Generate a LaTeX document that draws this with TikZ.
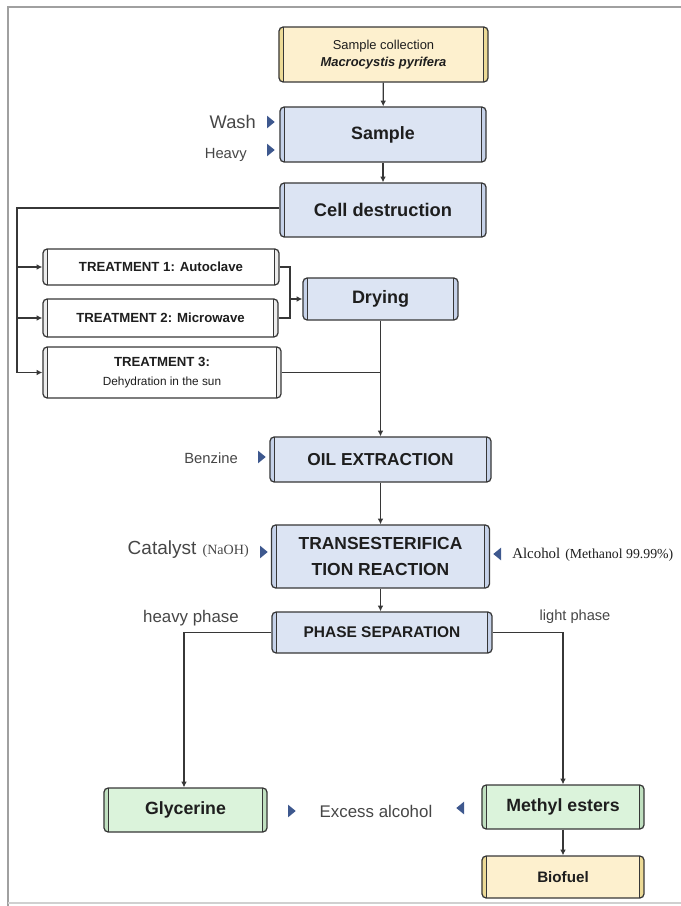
\documentclass[tikz,border=0pt]{standalone}
\usepackage{fontspec}
\setmainfont{Liberation Sans}
\newfontfamily\timesfont{Liberation Serif}
\usetikzlibrary{shapes.geometric, arrows.meta, positioning}
\definecolor{linegray}{RGB}{55,55,55}
\definecolor{framegray}{RGB}{160,160,160}
\definecolor{textdark}{RGB}{30,30,30}
\definecolor{labelgray}{RGB}{70,70,70}
\definecolor{boxyellow}{RGB}{253,240,206}
\definecolor{stripyellow}{RGB}{236,218,150}
\definecolor{boxblue}{RGB}{220,228,243}
\definecolor{stripblue}{RGB}{198,210,233}
\definecolor{boxgreen}{RGB}{219,243,219}
\definecolor{stripgreen}{RGB}{192,224,192}
\definecolor{stripwhite}{RGB}{236,236,236}
\definecolor{markblue}{RGB}{62,88,142}

\tikzset{
  strip/.initial=stripblue,
  proc/.style={rectangle, rounded corners=3pt, draw=linegray, line width=0.9pt, align=center,
    inner sep=1pt, text=textdark,
    path picture={
      \fill[fill=\pgfkeysvalueof{/tikz/strip}] (path picture bounding box.north west) rectangle ([xshift=3.5pt]path picture bounding box.south west);
      \fill[fill=\pgfkeysvalueof{/tikz/strip}] (path picture bounding box.north east) rectangle ([xshift=-3.5pt]path picture bounding box.south east);
      \draw[color=linegray, line width=0.6pt] ([xshift=3.5pt]path picture bounding box.north west) -- ([xshift=3.5pt]path picture bounding box.south west);
      \draw[color=linegray, line width=0.6pt] ([xshift=-3.5pt]path picture bounding box.north east) -- ([xshift=-3.5pt]path picture bounding box.south east);
    }},
  yellowproc/.style={proc, fill=boxyellow, strip=stripyellow},
  blueproc/.style={proc, fill=boxblue, strip=stripblue},
  greenproc/.style={proc, fill=boxgreen, strip=stripgreen},
  whiteproc/.style={proc, fill=white, strip=stripwhite},
  flow/.style={draw=linegray, line width=0.9pt},
  flowarrow/.style={flow, -{Latex[length=4pt, width=4pt]}},
  marker/.style={isosceles triangle, isosceles triangle stretches, fill=markblue, inner sep=0pt,
    minimum width=9pt, minimum height=5.5pt},
  note/.style={text=labelgray, inner sep=0pt}
}

\begin{document}
\begin{tikzpicture}[x=0.025cm, y=-0.025cm]
    \useasboundingbox (0,0) rectangle (681,906);
    \draw[framegray, line width=1pt] (8,906) -- (8,7) -- (681,7);
    \draw[framegray!50, line width=0.8pt] (8,903) -- (681,903);

    % main column
    \node[yellowproc, minimum width=5.225cm, minimum height=1.375cm, font=\fontsize{9.2}{12}\selectfont] (collect) at (383.5,54.5) {Sample collection\\\textbf{\textit{Macrocystis pyrifera}}};
    \node[blueproc, minimum width=5.15cm, minimum height=1.375cm, font=\fontsize{12.7}{14}\selectfont\bfseries] (sample) at (383,134.5) {Sample};
    \node[blueproc, minimum width=5.15cm, minimum height=1.35cm, font=\fontsize{13}{15}\selectfont\bfseries] (celldes) at (383,210) {Cell destruction};

    \node[whiteproc, minimum width=5.9cm, minimum height=0.9cm, font=\fontsize{9.4}{11}\selectfont\bfseries] (treat1) at (161,267) {TREATMENT 1: Autoclave};
    \node[whiteproc, minimum width=5.875cm, minimum height=0.95cm, font=\fontsize{9.4}{11}\selectfont\bfseries] (treat2) at (160.5,318) {TREATMENT 2: Microwave};
    \node[whiteproc, minimum width=5.95cm, minimum height=1.275cm, font=\fontsize{9.4}{13}\selectfont\bfseries] (treat3) at (162,372.5) {TREATMENT 3:\\{\fontsize{8.4}{10}\selectfont\mdseries Dehydration in the sun}};
    \node[blueproc, minimum width=3.875cm, minimum height=1.05cm, font=\fontsize{12.8}{14}\selectfont\bfseries] (drying) at (380.5,299) {Drying};

    \node[blueproc, minimum width=5.525cm, minimum height=1.125cm, font=\fontsize{12.3}{14}\selectfont\bfseries] (oil) at (380.5,459.5) {OIL EXTRACTION};
    \node[blueproc, minimum width=5.45cm, minimum height=1.575cm, font=\fontsize{12.4}{18.5}\selectfont\bfseries] (trans) at (380.5,556.5) {TRANSESTERIFICA\\TION REACTION};
    \node[blueproc, minimum width=5.5cm, minimum height=1.025cm, font=\fontsize{11}{13}\selectfont\bfseries] (phase) at (382,632.5) {PHASE SEPARATION};

    \node[greenproc, minimum width=4.075cm, minimum height=1.1cm, font=\fontsize{12.6}{14}\selectfont\bfseries] (glyc) at (185.5,810) {Glycerine};
    \node[greenproc, minimum width=4.05cm, minimum height=1.1cm, font=\fontsize{12.6}{14}\selectfont\bfseries] (methyl) at (563,807) {Methyl esters};
    \node[yellowproc, minimum width=4.05cm, minimum height=1.05cm, font=\fontsize{10.8}{12}\selectfont\bfseries] (biofuel) at (563,877) {Biofuel};

    % inputs
    \node[note, anchor=east, font=\fontsize{13}{15}\selectfont] (wash) at (256,122) {Wash};
    \node[marker] (washmk) at (270,122) {};
    \node[note, anchor=east, font=\fontsize{10.5}{12}\selectfont] (heavy) at (247,155) {Heavy};
    \node[marker] (heavymk) at (270,150) {};
    \node[note, anchor=east, font=\fontsize{10.5}{12}\selectfont] (benzine) at (238,458) {Benzine};
    \node[marker] (benzmk) at (261,457) {};
    \node[note, anchor=east, font=\fontsize{13.5}{15}\selectfont] (catalyst) at (249,550) {Catalyst\,\,{\timesfont\fontsize{10}{12}\selectfont(NaOH)}};
    \node[marker] (catmk) at (263,552) {};
    \node[marker, shape border rotate=180] (alcmk) at (498,554) {};
    \node[note, anchor=west, text=textdark, font=\timesfont\fontsize{10.6}{12}\selectfont] (alcohol) at (512,555) {Alcohol\,\,{\fontsize{9.8}{10}\selectfont(Methanol 99.99\%)}};

    \node[note, font=\fontsize{12}{14}\selectfont] (heavyph) at (191,618) {heavy phase};
    \node[note, font=\fontsize{10.4}{12}\selectfont] (lightph) at (575,617) {light phase};
    \node[note, font=\fontsize{12}{14}\selectfont] (excess) at (376,811) {Excess alcohol};
    \node[marker] (exmk1) at (291,811) {};
    \node[marker, shape border rotate=180] (exmk2) at (461,808) {};

    % connectors
    \coordinate (lbus) at (17,208);
    \coordinate (jn) at (290,299);
    \coordinate (hl) at (184,632.5);

    \draw[flowarrow] (collect) -- (sample);
    \draw[flowarrow] (sample) -- (celldes);
    \draw[flow] (celldes.west |- lbus) -- (lbus) -- (lbus |- treat3.west);
    \draw[flowarrow] (lbus |- treat1.west) -- (treat1.west);
    \draw[flowarrow] (lbus |- treat2.west) -- (treat2.west);
    \draw[flowarrow] (lbus |- treat3.west) -- (treat3.west);
    \draw[flow] (treat1.east) -| (jn) |- (treat2.east);
    \draw[flowarrow] (jn) -- (drying.west);
    \draw[flow] (treat3.east) -- (treat3.east -| drying.south);
    \draw[flowarrow] (drying.south) -- (drying.south |- oil.north);
    \draw[flowarrow] (oil) -- (trans);
    \draw[flowarrow] (trans.south) -- (trans.south |- phase.north);
    \draw[flowarrow] (phase.west) -- (hl) -- (hl |- glyc.north);
    \draw[flowarrow] (phase.east) -| (methyl.north);
    \draw[flowarrow] (methyl) -- (biofuel);
\end{tikzpicture}
\end{document}
